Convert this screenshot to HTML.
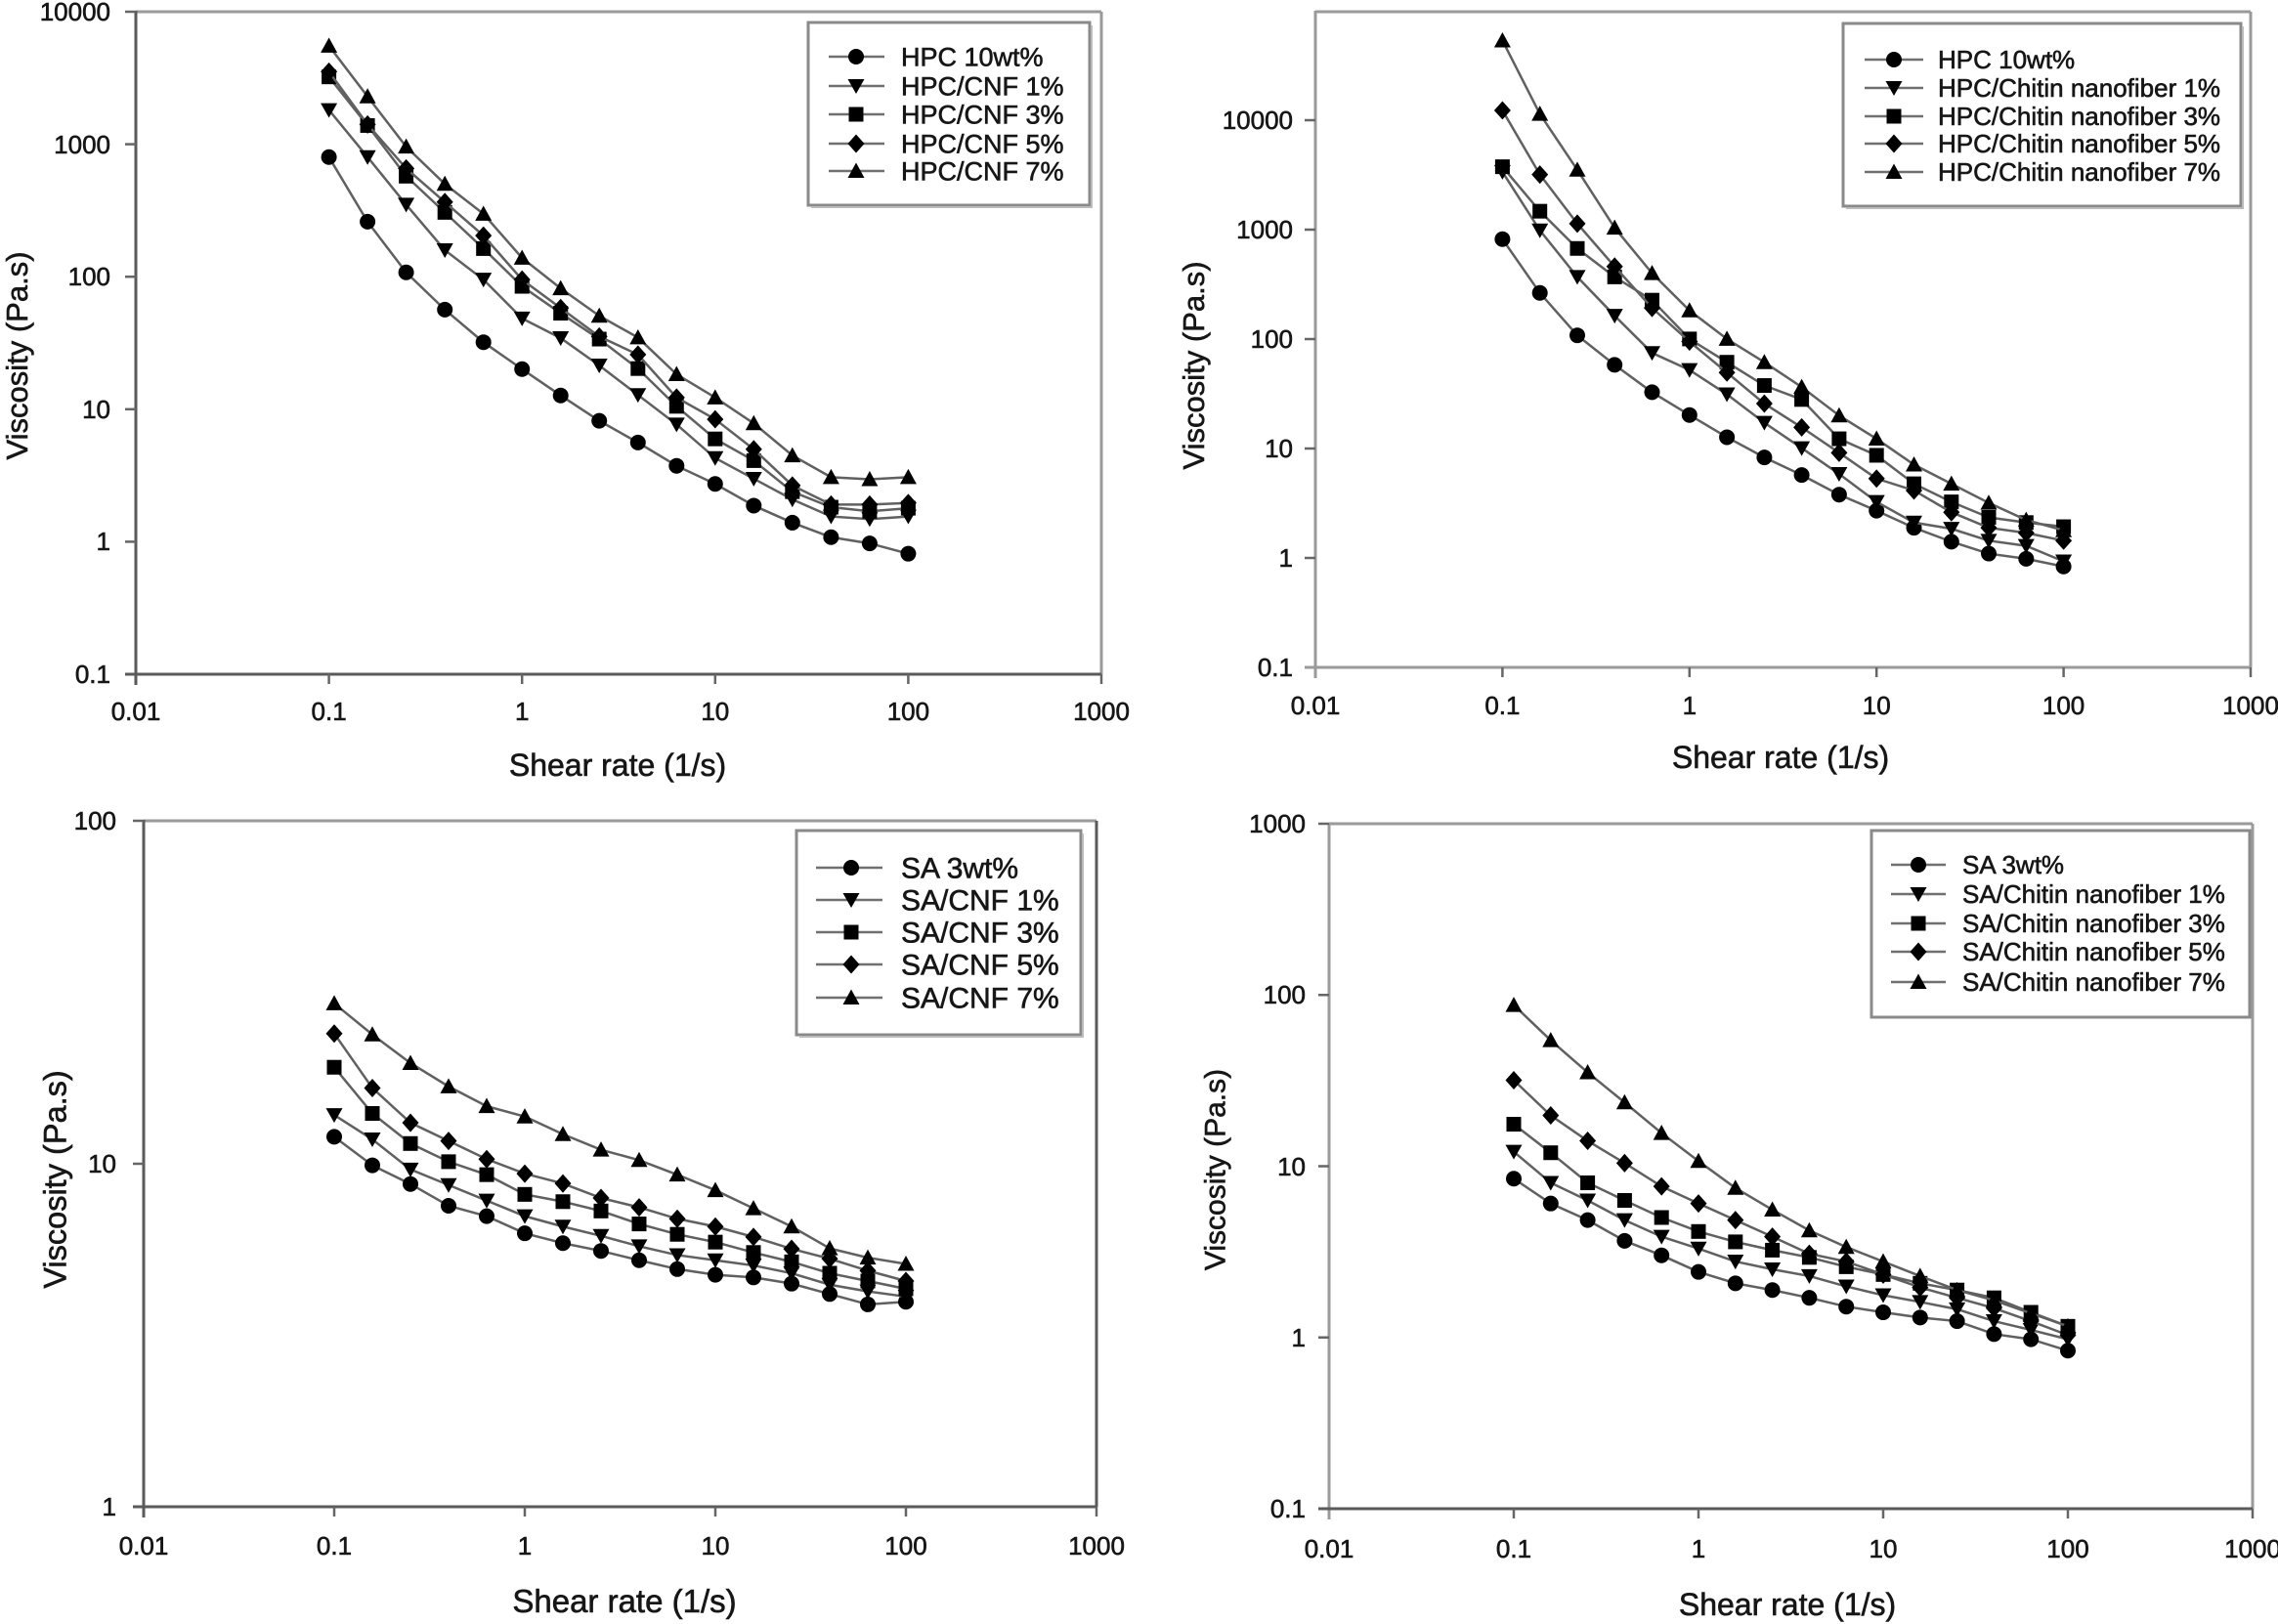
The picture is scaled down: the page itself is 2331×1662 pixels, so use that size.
<!DOCTYPE html>
<html><head><meta charset="utf-8">
<style>
html,body{margin:0;padding:0;background:#fff;}
svg{display:block}
.ax{stroke:#5a5a5a;stroke-width:3;fill:none}
.fr{stroke:#9a9a9a;stroke-width:3;fill:none}
.tk{stroke:#666;stroke-width:2.5}
.dl{fill:none;stroke:#606060;stroke-width:2.5}
.lg{fill:#fff;stroke:#8a8a8a;stroke-width:3}
.ll{stroke:#707070;stroke-width:2.5}
text{fill:#161616;stroke:#161616;stroke-width:0.6;font-family:"Liberation Sans",Arial,sans-serif}
.t26{font-size:26px}
</style></head>
<body>
<svg width="2331" height="1662" viewBox="0 0 2331 1662" xmlns="http://www.w3.org/2000/svg">
<defs>
<g id="sc"><circle r="8" fill="#000"/></g>
<g id="std"><polygon points="-8.5,-7 8.5,-7 0,8" fill="#000"/></g>
<g id="ss"><rect x="-7.5" y="-7.5" width="15" height="15" fill="#000"/></g>
<g id="sd"><polygon points="0,-9.5 8.5,0 0,9.5 -8.5,0" fill="#000"/></g>
<g id="stu"><polygon points="0,-8.5 8.5,7 -8.5,7" fill="#000"/></g>
<marker id="mc" markerUnits="userSpaceOnUse" markerWidth="40" markerHeight="40" refX="0" refY="0" overflow="visible" style="overflow:visible"><use href="#sc" transform="scale(1,1.887)"/></marker>
<marker id="mtd" markerUnits="userSpaceOnUse" markerWidth="40" markerHeight="40" refX="0" refY="0" overflow="visible" style="overflow:visible"><use href="#std" transform="scale(1,1.887)"/></marker>
<marker id="ms" markerUnits="userSpaceOnUse" markerWidth="40" markerHeight="40" refX="0" refY="0" overflow="visible" style="overflow:visible"><use href="#ss" transform="scale(1,1.887)"/></marker>
<marker id="md" markerUnits="userSpaceOnUse" markerWidth="40" markerHeight="40" refX="0" refY="0" overflow="visible" style="overflow:visible"><use href="#sd" transform="scale(1,1.887)"/></marker>
<marker id="mtu" markerUnits="userSpaceOnUse" markerWidth="40" markerHeight="40" refX="0" refY="0" overflow="visible" style="overflow:visible"><use href="#stu" transform="scale(1,1.887)"/></marker>
</defs>

<!-- ================= TOP LEFT ================= -->
<line class="fr" x1="139" y1="12" x2="1127" y2="12"/>
<line class="fr" x1="1127" y1="12" x2="1127" y2="690"/>
<line class="ax" x1="139" y1="11" x2="139" y2="701"/>
<line class="ax" x1="128" y1="690" x2="1127" y2="690"/>
<g class="tk">
<line x1="128" y1="554.4" x2="139" y2="554.4"/><line x1="128" y1="418.8" x2="139" y2="418.8"/><line x1="128" y1="283.2" x2="139" y2="283.2"/><line x1="128" y1="147.6" x2="139" y2="147.6"/><line x1="128" y1="12" x2="139" y2="12"/>
<line x1="336.6" y1="690" x2="336.6" y2="700"/><line x1="534.2" y1="690" x2="534.2" y2="700"/><line x1="731.8" y1="690" x2="731.8" y2="700"/><line x1="929.4" y1="690" x2="929.4" y2="700"/><line x1="1127" y1="690" x2="1127" y2="700"/>
</g>
<g class="t26" text-anchor="end">
<text x="113" y="699">0.1</text><text x="113" y="563">1</text><text x="113" y="428">10</text><text x="113" y="292">100</text><text x="113" y="157">1000</text><text x="113" y="21">10000</text>
</g>
<g class="t26" text-anchor="middle">
<text x="139" y="737">0.01</text><text x="336.6" y="737">0.1</text><text x="534.2" y="737">1</text><text x="731.8" y="737">10</text><text x="929.4" y="737">100</text><text x="1127" y="737">1000</text>
</g>
<text x="632" y="794" font-size="32" text-anchor="middle">Shear rate (1/s)</text>
<text transform="translate(17,364) rotate(-90)" y="11" font-size="31" text-anchor="middle">Viscosity (Pa.s)</text>

<g transform="translate(0,0.356) scale(1,0.52927)">
<polyline class="dl" vector-effect="non-scaling-stroke" marker-start="url(#mc)" marker-mid="url(#mc)" marker-end="url(#mc)" points="336.6,303 376.1,428 415.6,526 455.2,598 494.7,661 534.2,713 573.7,764 613.2,813 652.8,855 692.3,900 731.8,935 771.3,977 810.8,1010 850.4,1038 889.9,1050 929.4,1070"/>
<polyline class="dl" vector-effect="non-scaling-stroke" marker-start="url(#mtd)" marker-mid="url(#mtd)" marker-end="url(#mtd)" points="336.6,212 376.1,303 415.6,395 455.2,483 494.7,540 534.2,615 573.7,653 613.2,706 652.8,763 692.3,820 731.8,885 771.3,925 810.8,965 850.4,998 889.9,1003 929.4,998"/>
<polyline class="dl" vector-effect="non-scaling-stroke" marker-start="url(#ms)" marker-mid="url(#ms)" marker-end="url(#ms)" points="336.6,148 376.1,242 415.6,340 455.2,410 494.7,480 534.2,553 573.7,605 613.2,655 652.8,712 692.3,785 731.8,848 771.3,890 810.8,950 850.4,980 889.9,988 929.4,982"/>
<polyline class="dl" vector-effect="non-scaling-stroke" marker-start="url(#md)" marker-mid="url(#md)" marker-end="url(#md)" points="336.6,138 376.1,240 415.6,325 455.2,390 494.7,455 534.2,540 573.7,595 613.2,650 652.8,685 692.3,768 731.8,810 771.3,868 810.8,938 850.4,975 889.9,975 929.4,972"/>
<polyline class="dl" vector-effect="non-scaling-stroke" marker-start="url(#mtu)" marker-mid="url(#mtu)" marker-end="url(#mtu)" points="336.6,88 376.1,186 415.6,283 455.2,355 494.7,413 534.2,498 573.7,557 613.2,610 652.8,652 692.3,723 731.8,768 771.3,818 810.8,880 850.4,922 889.9,926 929.4,922"/>
</g>

<rect class="lg" x="827" y="23" width="288" height="187"/>
<polyline points="830,212 1117,212 1117,26" fill="none" stroke="#bbb" stroke-width="2"/>
<g class="ll">
<line x1="848" y1="58" x2="905" y2="58"/><line x1="848" y1="88" x2="905" y2="88"/><line x1="848" y1="117" x2="905" y2="117"/><line x1="848" y1="147" x2="905" y2="147"/><line x1="848" y1="175" x2="905" y2="175"/>
</g>
<use href="#sc" x="876" y="58"/><use href="#std" x="876" y="88"/><use href="#ss" x="876" y="117"/><use href="#sd" x="876" y="147"/><use href="#stu" x="876" y="175"/>
<g font-size="27">
<text x="922" y="67.5">HPC 10wt%</text><text x="922" y="97.5">HPC/CNF 1%</text><text x="922" y="126.5">HPC/CNF 3%</text><text x="922" y="156.5">HPC/CNF 5%</text><text x="922" y="184.5">HPC/CNF 7%</text>
</g>

<!-- ================= TOP RIGHT ================= -->
<line class="fr" x1="1346" y1="12" x2="2303" y2="12"/>
<line class="fr" x1="2303" y1="12" x2="2303" y2="683"/>
<line class="fr" x1="1346" y1="11" x2="1346" y2="694"/>
<line class="fr" x1="1335" y1="683" x2="2303" y2="683"/>
<g class="tk">
<line x1="1335" y1="571" x2="1346" y2="571"/><line x1="1335" y1="459" x2="1346" y2="459"/><line x1="1335" y1="347" x2="1346" y2="347"/><line x1="1335" y1="235" x2="1346" y2="235"/><line x1="1335" y1="123" x2="1346" y2="123"/>
<line x1="1537.4" y1="683" x2="1537.4" y2="693"/><line x1="1728.8" y1="683" x2="1728.8" y2="693"/><line x1="1920.2" y1="683" x2="1920.2" y2="693"/><line x1="2111.6" y1="683" x2="2111.6" y2="693"/><line x1="2303" y1="683" x2="2303" y2="693"/>
</g>
<g class="t26" text-anchor="end">
<text x="1323" y="692">0.1</text><text x="1323" y="580">1</text><text x="1323" y="468">10</text><text x="1323" y="356">100</text><text x="1323" y="244">1000</text><text x="1323" y="132">10000</text>
</g>
<g class="t26" text-anchor="middle">
<text x="1346" y="731">0.01</text><text x="1537.4" y="731">0.1</text><text x="1728.8" y="731">1</text><text x="1920.2" y="731">10</text><text x="2111.6" y="731">100</text><text x="2303" y="731">1000</text>
</g>
<text x="1822" y="786" font-size="32" text-anchor="middle">Shear rate (1/s)</text>
<text transform="translate(1221,374) rotate(-90)" y="11" font-size="31" text-anchor="middle">Viscosity (Pa.s)</text>

<g transform="translate(0,0.2) scale(1,0.5293)">
<polyline class="dl" vector-effect="non-scaling-stroke" marker-start="url(#mc)" marker-mid="url(#mc)" marker-end="url(#mc)" points="1537.4,462 1575.7,566 1614,648 1652.2,705 1690.5,758 1728.8,802 1767.1,845 1805.4,884 1843.6,918 1881.9,956 1920.2,987 1958.5,1020 1996.8,1047 2035,1070 2073.3,1080 2111.6,1095"/>
<polyline class="dl" vector-effect="non-scaling-stroke" marker-start="url(#mtd)" marker-mid="url(#mtd)" marker-end="url(#mtd)" points="1537.4,332 1575.7,445 1614,535 1652.2,610 1690.5,682 1728.8,715 1767.1,762 1805.4,817 1843.6,866 1881.9,916 1920.2,970 1958.5,1010 1996.8,1022 2035,1045 2073.3,1055 2111.6,1085"/>
<polyline class="dl" vector-effect="non-scaling-stroke" marker-start="url(#ms)" marker-mid="url(#ms)" marker-end="url(#ms)" points="1537.4,322 1575.7,408 1614,480 1652.2,535 1690.5,580 1728.8,655 1767.1,700 1805.4,745 1843.6,772 1881.9,848 1920.2,880 1958.5,935 1996.8,970 2035,1000 2073.3,1010 2111.6,1018"/>
<polyline class="dl" vector-effect="non-scaling-stroke" marker-start="url(#md)" marker-mid="url(#md)" marker-end="url(#md)" points="1537.4,213 1575.7,337 1614,432 1652.2,515 1690.5,595 1728.8,660 1767.1,720 1805.4,780 1843.6,826 1881.9,875 1920.2,925 1958.5,948 1996.8,990 2035,1020 2073.3,1030 2111.6,1045"/>
<polyline class="dl" vector-effect="non-scaling-stroke" marker-start="url(#mtu)" marker-mid="url(#mtu)" marker-end="url(#mtu)" points="1537.4,78 1575.7,220 1614,328 1652.2,440 1690.5,528 1728.8,600 1767.1,655 1805.4,700 1843.6,748 1881.9,803 1920.2,848 1958.5,898 1996.8,935 2035,972 2073.3,1005 2111.6,1025"/>
</g>

<rect class="lg" x="1886" y="24" width="407" height="187"/>
<polyline points="1889,213 2295,213 2295,27" fill="none" stroke="#bbb" stroke-width="2"/>
<g class="ll">
<line x1="1908" y1="61" x2="1968" y2="61"/><line x1="1908" y1="90" x2="1968" y2="90"/><line x1="1908" y1="119" x2="1968" y2="119"/><line x1="1908" y1="147" x2="1968" y2="147"/><line x1="1908" y1="176" x2="1968" y2="176"/>
</g>
<use href="#sc" x="1938" y="61"/><use href="#std" x="1938" y="90"/><use href="#ss" x="1938" y="119"/><use href="#sd" x="1938" y="147"/><use href="#stu" x="1938" y="176"/>
<g font-size="26">
<text x="1983" y="70">HPC 10wt%</text><text x="1983" y="99">HPC/Chitin nanofiber 1%</text><text x="1983" y="128">HPC/Chitin nanofiber 3%</text><text x="1983" y="156">HPC/Chitin nanofiber 5%</text><text x="1983" y="185">HPC/Chitin nanofiber 7%</text>
</g>

<!-- ================= BOTTOM LEFT ================= -->
<line class="fr" x1="147" y1="840" x2="1122" y2="840"/>
<line class="ax" x1="1122" y1="840" x2="1122" y2="1542"/>
<line class="ax" x1="147" y1="839" x2="147" y2="1553"/>
<line class="ax" x1="136" y1="1542" x2="1122" y2="1542"/>
<g class="tk">
<line x1="136" y1="1191" x2="147" y2="1191"/><line x1="136" y1="840" x2="147" y2="840"/>
<line x1="342" y1="1542" x2="342" y2="1552"/><line x1="537" y1="1542" x2="537" y2="1552"/><line x1="732" y1="1542" x2="732" y2="1552"/><line x1="927" y1="1542" x2="927" y2="1552"/><line x1="1122" y1="1542" x2="1122" y2="1552"/>
</g>
<g class="t26" text-anchor="end">
<text x="119" y="1551">1</text><text x="119" y="1200">10</text><text x="119" y="849">100</text>
</g>
<g class="t26" text-anchor="middle">
<text x="147" y="1591">0.01</text><text x="342" y="1591">0.1</text><text x="537" y="1591">1</text><text x="732" y="1591">10</text><text x="927" y="1591">100</text><text x="1122" y="1591">1000</text>
</g>
<text x="639" y="1650" font-size="33" text-anchor="middle">Shear rate (1/s)</text>
<text transform="translate(56,1207) rotate(-90)" y="11.5" font-size="32.5" text-anchor="middle">Viscosity (Pa.s)</text>

<g transform="translate(0,830.44) scale(1,0.53101)">
<polyline class="dl" vector-effect="non-scaling-stroke" marker-start="url(#mc)" marker-mid="url(#mc)" marker-end="url(#mc)" points="342,627 381,682 420,718 459,760 498,780 537,813 576,832 615,847 654,865 693,882 732,893 771,898 810,910 849,930 888,950 927,945"/>
<polyline class="dl" vector-effect="non-scaling-stroke" marker-start="url(#mtd)" marker-mid="url(#mtd)" marker-end="url(#mtd)" points="342,585 381,632 420,690 459,720 498,750 537,780 576,800 615,818 654,838 693,855 732,865 771,875 810,890 849,912 888,925 927,935"/>
<polyline class="dl" vector-effect="non-scaling-stroke" marker-start="url(#ms)" marker-mid="url(#ms)" marker-end="url(#ms)" points="342,493 381,582 420,640 459,675 498,700 537,738 576,752 615,770 654,795 693,815 732,830 771,850 810,868 849,890 888,905 927,920"/>
<polyline class="dl" vector-effect="non-scaling-stroke" marker-start="url(#md)" marker-mid="url(#md)" marker-end="url(#md)" points="342,428 381,533 420,600 459,635 498,670 537,698 576,717 615,745 654,763 693,785 732,800 771,820 810,843 849,862 888,885 927,905"/>
<polyline class="dl" vector-effect="non-scaling-stroke" marker-start="url(#mtu)" marker-mid="url(#mtu)" marker-end="url(#mtu)" points="342,370 381,430 420,485 459,530 498,568 537,588 576,622 615,652 654,672 693,700 732,730 771,765 810,800 849,842 888,860 927,872"/>
</g>

<rect class="lg" x="815" y="850" width="291" height="209"/>
<polyline points="818,1061 1108,1061 1108,853" fill="none" stroke="#bbb" stroke-width="2"/>
<g class="ll">
<line x1="835" y1="888" x2="903" y2="888"/><line x1="835" y1="921" x2="903" y2="921"/><line x1="835" y1="954" x2="903" y2="954"/><line x1="835" y1="987" x2="903" y2="987"/><line x1="835" y1="1021" x2="903" y2="1021"/>
</g>
<use href="#sc" x="871" y="888"/><use href="#std" x="871" y="921"/><use href="#ss" x="871" y="954"/><use href="#sd" x="871" y="987"/><use href="#stu" x="871" y="1021"/>
<g font-size="30">
<text x="922" y="898.5">SA 3wt%</text><text x="922" y="931.5">SA/CNF 1%</text><text x="922" y="964.5">SA/CNF 3%</text><text x="922" y="997.5">SA/CNF 5%</text><text x="922" y="1031.5">SA/CNF 7%</text>
</g>

<!-- ================= BOTTOM RIGHT ================= -->
<line class="fr" x1="1360" y1="843" x2="2305" y2="843"/>
<line class="fr" x1="2305" y1="843" x2="2305" y2="1544"/>
<line class="fr" x1="1360" y1="842" x2="1360" y2="1555"/>
<line class="ax" x1="1349" y1="1544" x2="2305" y2="1544"/>
<g class="tk">
<line x1="1349" y1="1368.75" x2="1360" y2="1368.75"/><line x1="1349" y1="1193.5" x2="1360" y2="1193.5"/><line x1="1349" y1="1018.25" x2="1360" y2="1018.25"/><line x1="1349" y1="843" x2="1360" y2="843"/>
<line x1="1549" y1="1544" x2="1549" y2="1554"/><line x1="1738" y1="1544" x2="1738" y2="1554"/><line x1="1927" y1="1544" x2="1927" y2="1554"/><line x1="2116" y1="1544" x2="2116" y2="1554"/><line x1="2305" y1="1544" x2="2305" y2="1554"/>
</g>
<g class="t26" text-anchor="end">
<text x="1336" y="1553">0.1</text><text x="1336" y="1378">1</text><text x="1336" y="1203">10</text><text x="1336" y="1027">100</text><text x="1336" y="852">1000</text>
</g>
<g class="t26" text-anchor="middle">
<text x="1360" y="1594">0.01</text><text x="1549" y="1594">0.1</text><text x="1738" y="1594">1</text><text x="1927" y="1594">10</text><text x="2116" y="1594">100</text><text x="2305" y="1594">1000</text>
</g>
<text x="1829" y="1653" font-size="32" text-anchor="middle">Shear rate (1/s)</text>
<text transform="translate(1243,1197) rotate(-90)" y="10.5" font-size="30" text-anchor="middle">Viscosity (Pa.s)</text>

<g transform="translate(0,829.74) scale(1,0.53026)">
<polyline class="dl" vector-effect="non-scaling-stroke" marker-start="url(#mc)" marker-mid="url(#mc)" marker-end="url(#mc)" points="1549,710 1586.8,758 1624.6,790 1662.4,830 1700.2,858 1738,890 1775.8,912 1813.6,925 1851.4,940 1889.2,957 1927,968 1964.8,978 2002.6,985 2040.4,1010 2078.2,1020 2116,1042"/>
<polyline class="dl" vector-effect="non-scaling-stroke" marker-start="url(#mtd)" marker-mid="url(#mtd)" marker-end="url(#mtd)" points="1549,658 1586.8,718 1624.6,752 1662.4,790 1700.2,822 1738,845 1775.8,870 1813.6,885 1851.4,898 1889.2,918 1927,935 1964.8,948 2002.6,962 2040.4,985 2078.2,1002 2116,1020"/>
<polyline class="dl" vector-effect="non-scaling-stroke" marker-start="url(#ms)" marker-mid="url(#ms)" marker-end="url(#ms)" points="1549,605 1586.8,660 1624.6,718 1662.4,752 1700.2,785 1738,812 1775.8,832 1813.6,848 1851.4,862 1889.2,880 1927,895 1964.8,912 2002.6,925 2040.4,940 2078.2,968 2116,995"/>
<polyline class="dl" vector-effect="non-scaling-stroke" marker-start="url(#md)" marker-mid="url(#md)" marker-end="url(#md)" points="1549,520 1586.8,588 1624.6,637 1662.4,680 1700.2,725 1738,758 1775.8,790 1813.6,822 1851.4,855 1889.2,870 1927,895 1964.8,920 2002.6,940 2040.4,960 2078.2,985 2116,1012"/>
<polyline class="dl" vector-effect="non-scaling-stroke" marker-start="url(#mtu)" marker-mid="url(#mtu)" marker-end="url(#mtu)" points="1549,375 1586.8,443 1624.6,505 1662.4,563 1700.2,622 1738,676 1775.8,728 1813.6,770 1851.4,810 1889.2,842 1927,870 1964.8,898 2002.6,925 2040.4,945 2078.2,970 2116,995"/>
</g>

<rect class="lg" x="1915" y="850" width="387" height="191"/>
<g class="ll">
<line x1="1935" y1="885" x2="1991" y2="885"/><line x1="1935" y1="915" x2="1991" y2="915"/><line x1="1935" y1="945" x2="1991" y2="945"/><line x1="1935" y1="974" x2="1991" y2="974"/><line x1="1935" y1="1005" x2="1991" y2="1005"/>
</g>
<use href="#sc" x="1963" y="885"/><use href="#std" x="1963" y="915"/><use href="#ss" x="1963" y="945"/><use href="#sd" x="1963" y="974"/><use href="#stu" x="1963" y="1005"/>
<g font-size="26">
<text x="2008" y="894">SA 3wt%</text><text x="2008" y="924">SA/Chitin nanofiber 1%</text><text x="2008" y="954">SA/Chitin nanofiber 3%</text><text x="2008" y="983">SA/Chitin nanofiber 5%</text><text x="2008" y="1014">SA/Chitin nanofiber 7%</text>
</g>
</svg>
</body></html>
